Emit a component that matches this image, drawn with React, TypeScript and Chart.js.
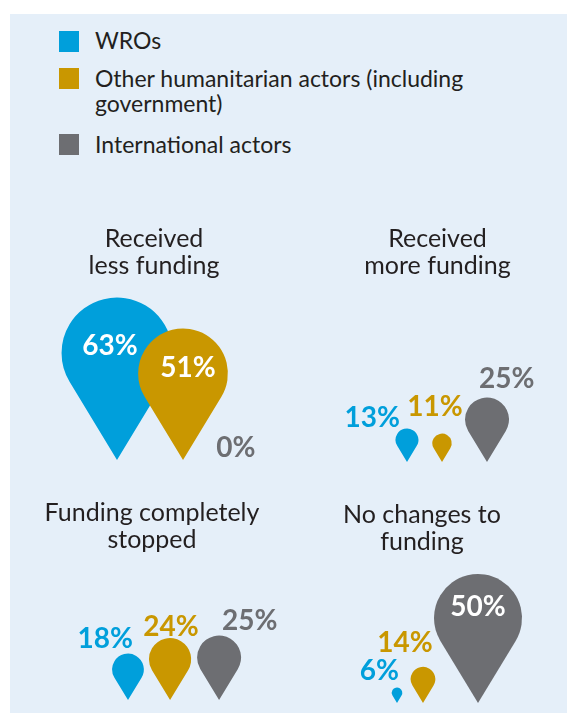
import React, { useEffect, useRef } from 'react';
import { Chart, registerables } from 'chart.js';

Chart.register(...registerables);

// Actor groups and their colours
const SERIES_NAMES = ['WROs', 'Other humanitarian actors (including government)', 'International actors'];
const SERIES_COLORS = ['#009fdb', '#c99700', '#6d6e72'];

// Panel headings
const PANEL_TITLES = [
  ['Received', 'less funding'],
  ['Received', 'more funding'],
  ['Funding completely', 'stopped'],
  ['No changes to', 'funding'],
];

// Share of respondents (%) per actor group: WROs, other humanitarian actors, international actors
const RECEIVED_LESS = [63, 51, 0];
const RECEIVED_MORE = [13, 11, 25];
const COMPLETELY_STOPPED = [18, 24, 25];
const NO_CHANGES = [6, 14, 50];
const PANEL_VALUES = [RECEIVED_LESS, RECEIVED_MORE, COMPLETELY_STOPPED, NO_CHANGES];

const TEXT_COLOR = '#231f20';
const BG_COLOR = '#e5eff9';
const FONT = 'Lato, "Open Sans", sans-serif';

// Drop radius (px) per percentage point, and tip distance from circle centre in radii
const RADIUS_PER_POINT = 0.88;
const TIP_FACTOR = 1.93;

// Panel boxes inside the shaded card, the first drop's tip position and the spacing between drops
const PANEL_LAYOUT = [
  { left: 0, top: 211, width: 288, height: 237, start: 107, gaps: [-34.3, 8] },
  { left: 308, top: 211, width: 239, height: 239, start: 89, gaps: [13.9, 13.3] },
  { left: 0, top: 485, width: 284, height: 203, start: 118, gaps: [5.1, 5.9] },
  { left: 290, top: 487, width: 244, height: 204, start: 97, gaps: [8.4, -1.3] },
];

// Small per-label nudges [dx, dy] so value labels clear neighbouring drops
const LABEL_NUDGES = [
  [[-7, 2], [5, 2], [0, 0]],
  [[-7, 3.4], [-7, -12.6], [-8, -4.5]],
  [[5, -0.7], [1, 2.8], [3, -0.5]],
  [[2, -2.5], [-18, -10], [0, -3.5]],
];

function dropPositions(values: number[], start: number, gaps: number[]) {
  const radii = values.map((v) => v * RADIUS_PER_POINT);
  const xs: number[] = [start];
  for (let i = 1; i < values.length; i++) {
    xs.push(xs[i - 1] + radii[i - 1] + radii[i] + gaps[i - 1]);
  }
  return values.map((v, i) => ({ x: xs[i], y: 0, r: radii[i], v }));
}

function makeDropPlugin(values: number[], nudges: number[][]) {
  const phi = Math.acos(1 / TIP_FACTOR);
  return {
    id: 'teardrops',
    beforeDatasetDraw(chart: any, args: any) {
      const ctx = chart.ctx as CanvasRenderingContext2D;
      args.meta.data.forEach((el: any) => {
        const r = el.options.radius;
        if (!(r > 0)) return;
        const cy = el.y - TIP_FACTOR * r;
        ctx.save();
        ctx.beginPath();
        ctx.moveTo(el.x, el.y);
        ctx.arc(el.x, cy, r, Math.PI / 2 - phi, Math.PI / 2 + phi, true);
        ctx.closePath();
        ctx.fillStyle = el.options.backgroundColor;
        ctx.fill();
        ctx.restore();
      });
      return false;
    },
    afterDatasetsDraw(chart: any) {
      const ctx = chart.ctx as CanvasRenderingContext2D;
      const meta = chart.getDatasetMeta(0);
      meta.data.forEach((el: any, i: number) => {
        const v = values[i];
        const r = el.options.radius;
        const [dx, dy] = nudges[i];
        const text = `${v}%`;
        ctx.save();
        ctx.font = `bold 28px ${FONT}`;
        if (v >= 40) {
          const cy = el.y - TIP_FACTOR * r;
          ctx.fillStyle = '#ffffff';
          ctx.textAlign = 'center';
          ctx.textBaseline = 'middle';
          ctx.fillText(text, el.x + dx, cy - 0.17 * r + dy);
        } else if (v === 0) {
          ctx.fillStyle = SERIES_COLORS[i];
          ctx.textAlign = 'center';
          ctx.textBaseline = 'alphabetic';
          ctx.fillText(text, el.x + dx, el.y - 3 + dy);
        } else {
          const top = el.y - (1 + TIP_FACTOR) * r;
          ctx.fillStyle = SERIES_COLORS[i];
          ctx.textAlign = i === 0 ? 'right' : i === 1 ? 'center' : 'left';
          ctx.textBaseline = 'alphabetic';
          ctx.fillText(text, el.x + dx, top - 5 + dy);
        }
        ctx.restore();
      });
    },
  };
}

function DropPanel({ index }: { index: number }) {
  const ref = useRef<HTMLCanvasElement>(null);
  const box = PANEL_LAYOUT[index];

  useEffect(() => {
    if (!ref.current) return;
    const values = PANEL_VALUES[index];
    const chart = new Chart(ref.current, {
      type: 'bubble',
      data: {
        datasets: [
          {
            label: PANEL_TITLES[index].join(' '),
            data: dropPositions(values, box.start, box.gaps) as any,
            backgroundColor: SERIES_COLORS,
            borderWidth: 0,
            clip: false as any,
          },
        ],
      },
      options: {
        responsive: false,
        animation: false,
        events: [],
        layout: { autoPadding: false, padding: { left: 0, right: 0, top: 0, bottom: 2 } },
        scales: {
          x: { type: 'linear', display: false, min: 0, max: box.width },
          y: { type: 'linear', display: false, min: 0, max: 1 },
        },
        plugins: {
          legend: { display: false },
          tooltip: { enabled: false },
          title: {
            display: true,
            text: PANEL_TITLES[index],
            color: TEXT_COLOR,
            font: { family: FONT, size: 25, weight: 'normal', lineHeight: 1.1 },
            padding: { top: 0, bottom: 0 },
          },
        },
      },
      plugins: [makeDropPlugin(values, LABEL_NUDGES[index])],
    });
    return () => chart.destroy();
  }, [index]);

  return (
    <div style={{ position: 'absolute', left: box.left, top: box.top, width: box.width, height: box.height }}>
      <canvas ref={ref} width={box.width} height={box.height} style={{ display: 'block' }} />
    </div>
  );
}

const LEGEND_ROWS = [
  { square: 17, text: 13.5 },
  { square: 54, text: 51.5 },
  { square: 120, text: 117.5 },
];

export default function App() {
  return (
    <div
      style={{
        position: 'absolute',
        left: 10,
        top: 14,
        width: 557,
        height: 699,
        background: BG_COLOR,
        overflow: 'hidden',
        fontFamily: FONT,
        color: TEXT_COLOR,
      }}
    >
      {SERIES_NAMES.map((name, i) => (
        <React.Fragment key={name}>
          <div
            style={{
              position: 'absolute',
              left: 49,
              top: LEGEND_ROWS[i].square,
              width: 20,
              height: 21,
              background: SERIES_COLORS[i],
            }}
          />
          <div
            style={{
              position: 'absolute',
              left: 85,
              top: LEGEND_ROWS[i].text,
              width: 420,
              fontSize: 23,
              lineHeight: '25px',
            }}
          >
            {name}
          </div>
        </React.Fragment>
      ))}
      {PANEL_TITLES.map((_, i) => (
        <DropPanel key={i} index={i} />
      ))}
    </div>
  );
}
